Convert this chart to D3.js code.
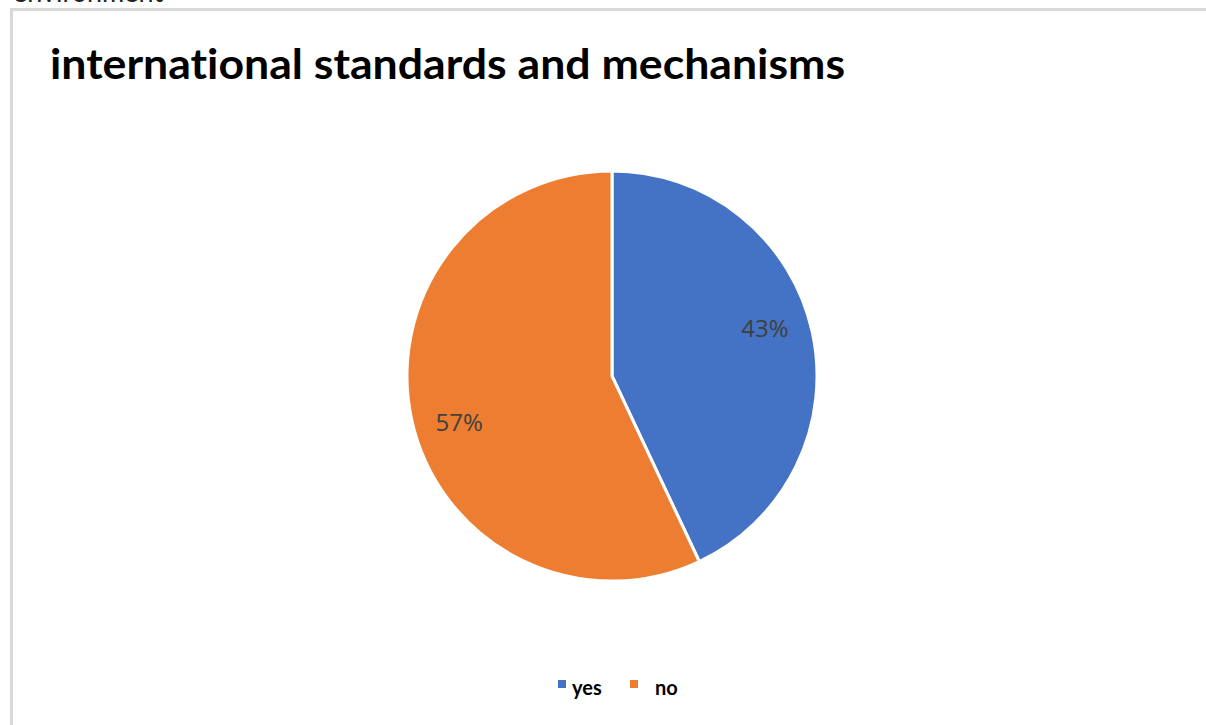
<!DOCTYPE html>
<html>
<head>
<meta charset="utf-8">
<script src="https://cdn.jsdelivr.net/npm/d3@7"></script>
<style>
  body { margin: 0; background: #fff; }
  svg { display: block; }
  text { font-variant-ligatures: none; }
</style>
</head>
<body>
<div id="chart"></div>
<script>
// donnees du graphique
var categories = ["yes", "no"];
var values = [43, 57];
var colors = ["#4472c4", "#ed7d31"];

var width = 1206,
    height = 725;

var svg = d3.select("#chart").append("svg")
    .attr("width", width)
    .attr("height", height);

// texte coupe en haut (reste de la page)
svg.append("text")
    .attr("x", 13)
    .attr("y", 2)
    .text("environment")
    .attr("font-family", "Lato, 'Open Sans', sans-serif")
    .attr("font-size", 27)
    .attr("fill", "#222");

// cadre
svg.append("rect")
    .attr("x", 11.5)
    .attr("y", 9.5)
    .attr("width", width)
    .attr("height", height)
    .attr("fill", "none")
    .attr("stroke", "#d9d9d9")
    .attr("stroke-width", 3);

// titre
svg.append("text")
    .attr("x", 50)
    .attr("y", 79)
    .text("international standards and mechanisms")
    .attr("font-family", "Lato, 'Open Sans', sans-serif")
    .attr("font-weight", "bold")
    .attr("font-size", 42)
    .attr("textLength", 795)
    .attr("lengthAdjust", "spacingAndGlyphs")
    .attr("fill", "#000");

// camembert
var cx = 612, cy = 376, radius = 205;
var pie = d3.pie().sort(null).value(function(d) { return d; });
var arc = d3.arc().innerRadius(0).outerRadius(radius);

var g = svg.append("g").attr("transform", "translate(" + cx + "," + cy + ")");
var arcs = pie(values);

g.selectAll("path")
    .data(arcs)
    .enter()
    .append("path")
    .attr("d", arc)
    .attr("fill", function(d, i) { return colors[i]; })
    .attr("stroke", "#fff")
    .attr("stroke-width", 3)
    .attr("stroke-linejoin", "round");

// etiquettes un peu decalees comme dans excel
var labelR = 160, labelShift = -4.5 * Math.PI / 180;
g.selectAll("text.lbl")
    .data(arcs)
    .enter()
    .append("text")
    .attr("class", "lbl")
    .attr("transform", function(d) {
        var a = (d.startAngle + d.endAngle) / 2 + labelShift;
        return "translate(" + (labelR * Math.sin(a)) + "," + (-labelR * Math.cos(a)) + ")";
    })
    .attr("text-anchor", "middle")
    .attr("dy", "0.35em")
    .text(function(d) { return d.data + "%"; })
    .attr("font-family", "'Open Sans', sans-serif")
    .attr("font-size", 24)
    .attr("fill", "#404040");

// legende
var legendX = [558, 630];
var leg = svg.selectAll("g.leg")
    .data(categories)
    .enter()
    .append("g")
    .attr("class", "leg")
    .attr("transform", function(d, i) { return "translate(" + legendX[i] + ",680)"; });

leg.append("rect")
    .attr("width", 8)
    .attr("height", 8)
    .attr("fill", function(d, i) { return colors[i]; });

leg.append("text")
    .attr("x", function(d, i) { return i == 0 ? 14 : 25; })
    .attr("y", 15)
    .text(function(d) { return d; })
    .attr("font-family", "Lato, 'Open Sans', sans-serif")
    .attr("font-weight", "bold")
    .attr("font-size", 20)
    .attr("fill", "#000");
</script>
</body>
</html>
